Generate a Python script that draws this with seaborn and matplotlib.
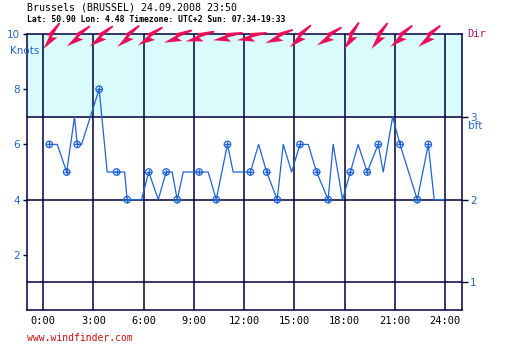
import matplotlib

matplotlib.use("Agg")
import matplotlib.pyplot as plt
import pandas as pd
import seaborn as sns
from matplotlib.markers import MarkerStyle
from matplotlib.path import Path
from matplotlib.transforms import Affine2D

# --- Data
# wind speed trace (hours since midnight, knots)
hours = [0.36, 0.84, 1.40, 1.87, 2.03, 2.29, 3.34, 3.82, 4.38, 4.86, 5.01, 5.87,
         6.30, 6.87, 7.34, 7.70, 8.00, 8.36, 9.31, 9.85, 10.33, 11.00, 11.34,
         12.37, 12.86, 13.34, 13.97, 14.33, 14.83, 15.33, 15.82, 16.32, 17.01,
         17.31, 17.87, 18.34, 18.80, 19.34, 20.00, 20.30, 20.86, 21.30, 22.33,
         22.99, 23.34, 23.94]
knots = [6, 6, 5, 7, 6, 6, 8, 5, 5, 5, 4, 4,
         5, 4, 5, 5, 4, 5, 5, 5, 4, 6, 5,
         5, 6, 5, 4, 6, 5, 6, 6, 5, 4,
         6, 4, 5, 6, 5, 6, 5, 7, 6, 4,
         6, 4, 4]
has_marker = [1, 0, 1, 0, 1, 0, 1, 0, 1, 0, 1, 0,
              1, 0, 1, 0, 1, 0, 1, 0, 1, 1, 0,
              1, 0, 1, 1, 0, 0, 1, 0, 1, 1,
              0, 0, 1, 0, 1, 1, 0, 0, 1, 1,
              1, 0, 0]

# wind direction arrows (hours, direction the wind comes from in degrees)
dir_hours = [0.4, 2.0, 3.4, 5.0, 6.3, 8.0, 9.3, 11.0, 12.4, 14.0, 15.3, 17.0,
             18.3, 20.0, 21.3, 23.0]
dir_deg = [28, 45, 45, 42, 50, 62, 67, 72, 72, 60, 40, 50, 25, 28, 42, 42]

x_ticks = [0, 3, 6, 9, 12, 15, 18, 21, 24]
x_labels = ["0:00", "3:00", "6:00", "9:00", "12:00", "15:00", "18:00", "21:00", "24:00"]
knot_ticks = [2, 4, 6, 8, 10]
bft_pos = [1, 4, 7]
bft_labels = ["1", "2", "3"]

title = "Brussels (BRUSSEL) 24.09.2008 23:50"
subtitle = "Lat: 50.90 Lon: 4.48 Timezone: UTC+2 Sun: 07:34-19:33"

# --- Styling
navy = "#00003c"
blue = "#1f63d6"
label_blue = "#2266c8"
arrow_red = "#e8105a"
mono = "DejaVu Sans Mono"

sns.set_style("white")

df = pd.DataFrame({"hour": hours, "knots": knots, "marker": has_marker})
marked = df[df["marker"] == 1]

fig = plt.figure(figsize=(5.12, 3.51), dpi=100)
ax = fig.add_axes([0.0533, 0.1168, 0.8490, 0.7863])

# shaded band above 3 bft
ax.axhspan(7, 10, color="#d9fbfc", zorder=0, lw=0)

# grid
for x in x_ticks:
    ax.axvline(x, color=navy, lw=1.1, zorder=1)
for y in bft_pos:
    ax.axhline(y, color=navy, lw=1.1, zorder=1)

sns.lineplot(data=df, x="hour", y="knots", ax=ax, color=blue, lw=0.9,
             estimator=None, sort=False, zorder=3)
sns.scatterplot(data=marked, x="hour", y="knots", ax=ax, marker="o",
                facecolor="none", edgecolor=blue, s=22, lw=0.9, zorder=4)
sns.scatterplot(data=marked, x="hour", y="knots", ax=ax, marker="+",
                color=blue, s=22, lw=0.9, zorder=4)

ax.set_xlim(-0.95, 25.0)
ax.set_ylim(0, 10)

# direction arrows (lightning-bolt shape, tip pointing +x)
bolt = Path([(1.0, 0.0), (-0.1, 0.46), (0.08, 0.12), (-1.0, 0.2),
             (-1.0, 0.08), (0.12, -0.2), (0.02, -0.05), (1.0, 0.0)])
for h, d in zip(dir_hours, dir_deg):
    # arrow points where the wind blows to
    ms = MarkerStyle(bolt, transform=Affine2D().rotate_deg(270 - d))
    ax.plot([h], [9.97], marker=ms, ms=22, color=arrow_red, ls="none",
            clip_on=False, zorder=6, mew=0)

# axes / ticks
for s in ax.spines.values():
    s.set_color(navy)
    s.set_linewidth(1.1)
    s.set_visible(True)

ax.set_xticks(x_ticks)
ax.set_xticklabels(x_labels, family=mono, fontsize=7.5, color="black")
ax.set_yticks(knot_ticks)
ax.set_yticklabels([str(t) for t in knot_ticks], fontsize=7.5, color=label_blue)
ax.tick_params(axis="y", direction="out", length=3, color=navy, width=1, pad=2,
               left=True)
ax.tick_params(axis="x", length=0, pad=4)
ax.set_xlabel("")
ax.set_ylabel("")

ax2 = ax.twinx()
ax2.set_ylim(0, 10)
ax2.set_yticks(bft_pos)
ax2.set_yticklabels(bft_labels, fontsize=7.5, color=label_blue)
ax2.tick_params(axis="y", direction="out", length=4, color=navy, width=1,
                pad=2, right=True)
for s in ax2.spines.values():
    s.set_visible(False)

ax.text(-0.2, 9.4, "Knots", transform=ax.transData, ha="right", va="center",
        fontsize=7.5, color=label_blue, clip_on=False)
ax.text(25.35, 6.65, "bft", ha="left", va="center", fontsize=7.5,
        color=label_blue, clip_on=False)
ax.text(25.3, 10, "Dir", ha="left", va="center", family=mono, fontsize=7.5,
        color="#a0106a", clip_on=False)

fig.text(27 / 512, 1 - 8 / 351, title, family=mono, fontsize=7.2, ha="left",
         va="center", color="black")
fig.text(27 / 512, 1 - 19 / 351, subtitle, family=mono, fontsize=5.9,
         fontweight="bold", ha="left", va="center", color="black")
fig.text(27 / 512, 1 - 338 / 351, "www.windfinder.com", family=mono,
         fontsize=7, ha="left", va="center", color="#c81010")

fig.savefig("out.png", dpi=100)
